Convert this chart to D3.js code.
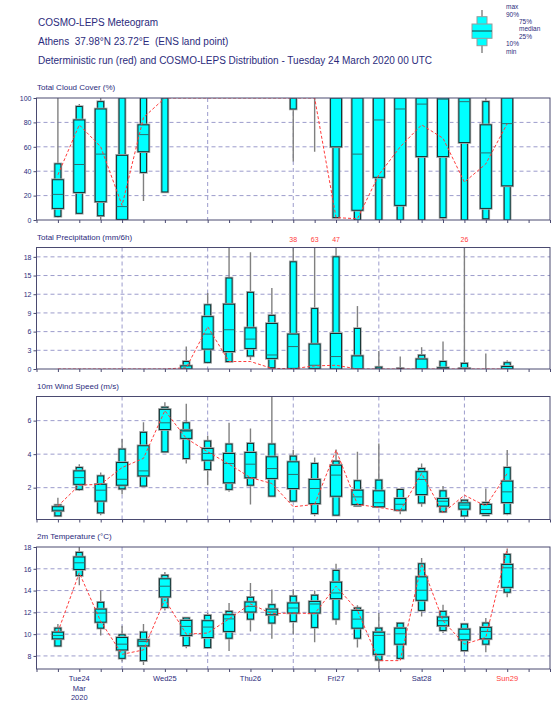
<!DOCTYPE html>
<html>
<head>
<meta charset="utf-8">
<script src="https://cdn.jsdelivr.net/npm/d3@7"></script>
<style>
  body { margin: 0; background: #fff; }
  svg { display: block; font-family: "Liberation Sans", Arial, sans-serif; }
</style>
</head>
<body>
<div id="chart"></div>
<script>
// forecast steps (hours from Tue 24 Mar 2020 00 UTC)
const stepHours = [6, 12, 18, 24, 30, 36, 42, 48, 54, 60, 66, 72, 78, 84, 90, 96, 102, 108, 114, 120, 126, 132];
const dayHours = [12, 36, 60, 84, 108, 132];
const dayLabels = ["Tue24", "Wed25", "Thu26", "Fri27", "Sat28", "Sun29"];
const dayBounds = [24, 48, 72, 96, 120];

// each row: [min, 10%, 25%, median, 75%, 90%, max]
const cloudStats = [
  [2, 3, 9.5, 21, 33, 46, 100], [5, 5.5, 22.6, 45.5, 82, 93, 95], [0, 3.5, 15, 54, 91, 97, 100],
  [0, 0, 0.5, 11, 53, 100, 100], [15.5, 39, 56, 70, 78, 100, 100], [23, 23, 100, 100, 100, 100, 100],
  [100, 100, 100, 100, 100, 100, 100], [100, 100, 100, 100, 100, 100, 100], [100, 100, 100, 100, 100, 100, 100],
  [100, 100, 100, 100, 100, 100, 100], [100, 100, 100, 100, 100, 100, 100], [48, 91, 100, 100, 100, 100, 100],
  [56, 100, 100, 100, 100, 100, 100], [2, 2, 60, 100, 100, 100, 100], [0, 0, 8, 54, 100, 100, 100],
  [0, 0, 35, 82, 100, 100, 100], [0, 0, 12, 91, 100, 100, 100], [0, 0, 52, 95, 100, 100, 100],
  [0, 2, 52, 99, 100, 100, 100], [0, 0, 63.5, 97, 100, 100, 100], [0, 1, 9.5, 55, 78, 97, 100],
  [0, 0, 28, 79, 100, 100, 100]
];
const cloudDet = [37, 78, 60, 12, 84, 100, 100, 100, 100, 100, 100, 100, 100, 2, 1, 37, 60, 78, 67, 31, 46, 79];

const precipStats = [
  [0, 0, 0, 0, 0, 0, 0], [0, 0, 0, 0, 0, 0, 0], [0, 0, 0, 0, 0, 0, 0],
  [0, 0, 0, 0, 0, 0, 0], [0, 0, 0, 0, 0, 0, 0], [0, 0, 0, 0, 0, 0, 0],
  [0, 0, 0, 0, 0.5, 1.2, 3.6], [1.07, 1.07, 3.2, 5.6, 8.4, 10.3, 12.2], [1.2, 1.2, 2.8, 6.3, 10.4, 14.6, 19.5],
  [1.45, 2.1, 3.3, 4.8, 6.6, 12.3, 18.75], [0.1, 0.2, 1.7, 2.25, 7.3, 8.6, 13.0], [0, 0, 0.1, 3.6, 5.6, 17.2, 38],
  [0, 0, 0.1, 0.6, 4.0, 9.7, 63], [0, 0, 0, 2.0, 5.7, 18.0, 47], [0, 0, 0, 0, 2.1, 6.5, 10.1],
  [0, 0, 0, 0, 0, 0.3, 2.9], [0, 0, 0, 0, 0, 0.1, 2.0], [0, 0, 0, 0, 1.6, 2.2, 3.5],
  [0, 0, 0, 0, 0.2, 1.2, 4.4], [0, 0, 0, 0, 0.1, 0.9, 26], [0, 0, 0, 0, 0, 0, 2.5],
  [0, 0, 0, 0, 0.4, 1.0, 1.4]
];
const precipDet = [0, 0, 0, 0, 0, 0, 0.2, 6.8, 1.2, 1.2, 0.1, 0.05, 0.5, 0.6, 0, 0, 0, 0, 0, 0, 0, 0];

const windStats = [
  [0.26, 0.32, 0.62, 0.66, 0.86, 0.96, 1.4], [1.8, 1.9, 2.2, 2.6, 3.0, 3.2, 3.4], [0.35, 0.5, 1.2, 1.85, 2.2, 2.7, 2.9],
  [1.6, 1.93, 2.15, 2.5, 3.5, 4.3, 4.9], [2.05, 2.1, 2.7, 3.0, 4.5, 5.3, 5.9], [4.1, 4.14, 5.47, 5.87, 6.67, 6.8, 7.1],
  [3.44, 3.74, 4.94, 5.37, 5.43, 5.87, 7.0], [2.15, 3.08, 3.64, 4.04, 4.34, 4.78, 5.1], [1.75, 1.9, 2.29, 3.44, 4.04, 4.6, 5.87],
  [1.0, 2.15, 2.59, 3.4, 4.1, 4.64, 5.53], [1.45, 1.5, 2.55, 3.14, 3.84, 4.6, 7.45], [1.2, 1.2, 1.95, 2.79, 3.54, 3.88, 4.24],
  [0.3, 0.46, 1.05, 1.95, 2.49, 3.44, 3.8], [0.36, 0.36, 1.49, 2.75, 3.34, 3.58, 4.28], [0.86, 0.92, 1.0, 1.45, 1.85, 2.41, 4.14],
  [0.8, 0.86, 0.86, 1.1, 1.81, 2.45, 4.64], [0.42, 0.66, 0.66, 1.01, 1.35, 1.89, 1.89], [0.86, 1.09, 1.59, 2.49, 2.95, 3.14, 3.44],
  [0.5, 0.56, 0.9, 1.19, 1.35, 1.81, 2.1], [0.26, 0.32, 0.72, 0.96, 1.09, 1.25, 1.25], [0.32, 0.36, 0.46, 0.7, 1.0, 1.11, 1.95],
  [0.36, 0.46, 1.11, 1.75, 2.39, 3.2, 4.24]
];
const windDet = [0.9, 2.15, 2.2, 3.2, 3.75, 6.6, 4.94, 4.14, 3.4, 2.6, 2.25, 0.86, 1.0, 4.24, 1.0, 0.82, 0.62, 2.85, 0.5, 1.55, 0.9, 2.85];

const tempStats = [
  [8.92, 8.92, 9.57, 9.88, 10.18, 10.55, 10.92], [14.5, 15.38, 15.94, 16.55, 17.08, 17.5, 18.1], [9.88, 10.55, 11.1, 11.94, 12.3, 12.92, 14.0],
  [7.48, 7.78, 8.55, 9.08, 9.69, 9.94, 10.77], [7.17, 7.57, 8.92, 9.32, 9.48, 10.18, 10.92], [12.18, 12.46, 13.42, 14.4, 15.08, 15.4, 15.7],
  [8.71, 8.95, 9.88, 10.71, 11.26, 11.48, 11.57], [8.77, 8.77, 9.69, 10.65, 11.23, 11.72, 11.94], [8.46, 9.63, 10.25, 11.4, 11.78, 12.09, 12.86],
  [10.25, 11.38, 12.03, 12.55, 12.95, 13.38, 14.7], [9.57, 11.02, 11.78, 12.03, 12.3, 12.7, 14.09], [10.0, 11.17, 11.94, 12.4, 12.86, 13.48, 14.09],
  [9.26, 10.62, 11.94, 12.77, 13.0, 13.57, 14.0], [10.86, 11.38, 13.26, 13.78, 14.77, 15.85, 16.46], [8.77, 9.63, 10.55, 11.38, 12.18, 12.4, 12.65],
  [6.8, 7.63, 8.15, 9.88, 10.18, 10.55, 11.94], [7.78, 7.78, 9.08, 10.03, 10.55, 11.0, 11.1], [11.63, 12.18, 13.11, 14.03, 15.26, 16.46, 17.0],
  [10.1, 10.34, 10.77, 11.23, 11.57, 12.09, 12.7], [8.34, 8.49, 9.48, 10.0, 10.46, 10.92, 10.92], [8.34, 9.08, 9.57, 10.25, 10.62, 11.02, 11.48],
  [13.38, 13.85, 14.3, 16.09, 16.4, 17.32, 17.85]
];
const tempDet = [10.2, 15.63, 11.17, 8.15, 8.55, 13.17, 10.0, 10.1, 11.4, 12.77, 11.88, 11.94, 11.88, 14.4, 12.18, 7.57, 7.57, 16.46, 11.23, 9.08, 9.69, 17.85];

const cloudTicks = [0, 20, 40, 60, 80, 100];
const precipTicks = [0, 3, 6, 9, 12, 15, 18];
const windTicks = [2, 4, 6];
const tempTicks = [8, 10, 12, 14, 16, 18];

const width = 553, height = 701;
const navy = "#2b2b7c", frameColor = "#4a4a70", gridColor = "#9c9ccc";

const svg = d3.select("#chart").append("svg")
  .attr("width", width)
  .attr("height", height);

const x = d3.scaleLinear().domain([0, 144]).range([36.5, 550]);

// header
const header = [
  { text: "COSMO-LEPS Meteogram", y: 26 },
  { text: "Athens  37.98°N 23.72°E  (ENS land point)", y: 45 },
  { text: "Deterministic run (red) and COSMO-LEPS Distribution - Tuesday 24 March 2020 00 UTC", y: 64 }
];
svg.selectAll(".hdr").data(header).enter().append("text")
  .attr("class", "hdr")
  .attr("x", 38)
  .attr("y", d => d.y)
  .attr("font-size", "10px")
  .attr("fill", navy)
  .style("white-space", "pre")
  .text(d => d.text);

const panels = [
  { title: "Total Cloud Cover (%)", stats: cloudStats, det: cloudDet, ticks: cloudTicks, domain: [0, 100], top: 98, bottom: 220 },
  { title: "Total Precipitation (mm/6h)", stats: precipStats, det: precipDet, ticks: precipTicks, domain: [0, 19.5], top: 247.5, bottom: 369, overflow: true },
  { title: "10m Wind Speed (m/s)", stats: windStats, det: windDet, ticks: windTicks, domain: [0.1, 7.44], top: 396.5, bottom: 519.5 },
  { title: "2m Temperature (°C)", stats: tempStats, det: tempDet, ticks: tempTicks, domain: [6.8, 18], top: 547, bottom: 669 }
];

panels.forEach((p, pi) => {
  const y = d3.scaleLinear().domain(p.domain).range([p.bottom, p.top]);
  const g = svg.append("g");
  const x0 = x.range()[0], x1 = x.range()[1];

  const clipId = "clip" + pi;
  svg.append("clipPath").attr("id", clipId)
    .append("rect")
    .attr("x", x0).attr("y", p.top)
    .attr("width", x1 - x0).attr("height", p.bottom - p.top);

  // panel title
  g.append("text")
    .attr("x", 37)
    .attr("y", p.top - 8)
    .attr("font-size", "8px")
    .attr("fill", navy)
    .text(p.title);

  // grid lines
  g.append("g").selectAll("line")
    .data(p.ticks.filter(t => y(t) > p.top + 1 && y(t) < p.bottom - 1))
    .enter().append("line")
    .attr("x1", x0).attr("x2", x1)
    .attr("y1", d => y(d)).attr("y2", d => y(d))
    .attr("stroke", gridColor)
    .attr("stroke-dasharray", "4,3");

  g.append("g").selectAll("line")
    .data(dayBounds)
    .enter().append("line")
    .attr("x1", d => x(d)).attr("x2", d => x(d))
    .attr("y1", p.top).attr("y2", p.bottom)
    .attr("stroke", gridColor)
    .attr("stroke-dasharray", "4,3");

  // y axis
  const yAxis = g.append("g")
    .attr("transform", `translate(${x0},0)`)
    .call(d3.axisLeft(y).tickValues(p.ticks).tickSize(3).tickPadding(2));
  yAxis.select(".domain").remove();
  yAxis.selectAll("line").attr("stroke", frameColor);
  yAxis.selectAll("text").attr("fill", navy).attr("font-size", "7px")
    .attr("font-family", "Liberation Sans, Arial, sans-serif");

  // x ticks every 6 hours
  const xAxis = g.append("g")
    .attr("transform", `translate(0,${p.bottom})`)
    .call(d3.axisBottom(x).tickValues(d3.range(0, 145, 6)).tickSize(3).tickFormat(""));
  xAxis.select(".domain").remove();
  xAxis.selectAll("line").attr("stroke", frameColor);

  const plot = g.append("g").attr("clip-path", `url(#${clipId})`);

  // whiskers
  plot.selectAll(".whisker")
    .data(p.stats)
    .enter().append("line")
    .attr("class", "whisker")
    .attr("x1", (d, i) => x(stepHours[i])).attr("x2", (d, i) => x(stepHours[i]))
    .attr("y1", d => y(d[0])).attr("y2", d => y(d[6]))
    .attr("stroke", "#808080")
    .attr("stroke-width", 1.4);

  // boxes: 10-90 narrow, 25-75 wide
  const boxes = [{ lo: 1, hi: 5, w: 6 }, { lo: 2, hi: 4, w: 11 }];
  boxes.forEach(b => {
    const rows = p.stats.map((d, i) => ({ cx: x(stepHours[i]), lo: d[b.lo], hi: d[b.hi] }))
      .filter(d => d.hi > d.lo);
    plot.append("g").selectAll("rect")
      .data(rows)
      .enter().append("rect")
      .attr("x", d => d.cx - b.w / 2)
      .attr("y", d => y(d.hi))
      .attr("width", b.w)
      .attr("height", d => y(d.lo) - y(d.hi))
      .attr("fill", "none")
      .attr("stroke", "#a8a8a8")
      .attr("stroke-width", 2.6);
    plot.append("g").selectAll("rect")
      .data(rows)
      .enter().append("rect")
      .attr("x", d => d.cx - b.w / 2)
      .attr("y", d => y(d.hi))
      .attr("width", b.w)
      .attr("height", d => y(d.lo) - y(d.hi))
      .attr("fill", "#00ffff")
      .attr("stroke", "#163030")
      .attr("stroke-width", 1);
  });

  // medians
  plot.selectAll(".median")
    .data(p.stats.filter(d => d[4] > d[2]).map(d => d))
    .enter().append("line")
    .attr("class", "median")
    .attr("x1", d => x(stepHours[p.stats.indexOf(d)]) - 5.5)
    .attr("x2", d => x(stepHours[p.stats.indexOf(d)]) + 5.5)
    .attr("y1", d => y(d[3])).attr("y2", d => y(d[3]))
    .attr("stroke", "#2c7070")
    .attr("stroke-width", 1);

  // deterministic run
  const line = d3.line()
    .x((d, i) => x(stepHours[i]))
    .y(d => y(d));
  plot.append("path")
    .datum(p.det)
    .attr("d", line)
    .attr("fill", "none")
    .attr("stroke", "#ff3b3b")
    .attr("stroke-width", 1)
    .attr("stroke-dasharray", "3,2");

  // frame
  g.append("rect")
    .attr("x", x0).attr("y", p.top)
    .attr("width", x1 - x0).attr("height", p.bottom - p.top)
    .attr("fill", "none")
    .attr("stroke", frameColor)
    .attr("stroke-width", 1);

  // values off the scale
  if (p.overflow) {
    g.selectAll(".over")
      .data(p.stats.map((d, i) => ({ v: d[6], h: stepHours[i] })).filter(d => d.v > p.domain[1]))
      .enter().append("text")
      .attr("x", d => x(d.h))
      .attr("y", p.top - 6)
      .attr("text-anchor", "middle")
      .attr("font-size", "7px")
      .attr("fill", "#ff3b3b")
      .text(d => Math.round(d.v));
  }
});

// day labels under the last panel
const dl = svg.append("g");
dl.selectAll("text")
  .data(dayLabels)
  .enter().append("text")
  .attr("x", (d, i) => x(dayHours[i]))
  .attr("y", 681)
  .attr("text-anchor", "middle")
  .attr("font-size", "7.5px")
  .attr("fill", (d, i) => i === dayLabels.length - 1 ? "#ff3b3b" : navy)
  .text(d => d);
dl.append("text").attr("x", x(dayHours[0])).attr("y", 691).attr("text-anchor", "middle")
  .attr("font-size", "7.5px").attr("fill", navy).text("Mar");
dl.append("text").attr("x", x(dayHours[0])).attr("y", 700).attr("text-anchor", "middle")
  .attr("font-size", "7.5px").attr("fill", navy).text("2020");

// legend (top right)
const lg = svg.append("g");
const lx = 482;
lg.append("line").attr("x1", lx).attr("x2", lx).attr("y1", 10).attr("y2", 53)
  .attr("stroke", "#808080").attr("stroke-width", 1.4);
lg.append("rect").attr("x", lx - 5).attr("y", 16.7).attr("width", 10).attr("height", 29)
  .attr("fill", "#00ffff").attr("stroke", "#9a9a9a").attr("stroke-width", 1);
lg.append("rect").attr("x", lx - 10).attr("y", 24).attr("width", 20).attr("height", 14.3)
  .attr("fill", "#00ffff").attr("stroke", "#9a9a9a").attr("stroke-width", 1);
lg.append("line").attr("x1", lx - 10).attr("x2", lx + 10).attr("y1", 31).attr("y2", 31)
  .attr("stroke", "#1a4040").attr("stroke-width", 1);
const legendLabels = [
  { t: "max", x: 506, y: 8.5 }, { t: "90%", x: 506, y: 16.5 },
  { t: "75%", x: 519, y: 23.5 }, { t: "median", x: 519, y: 31 }, { t: "25%", x: 519, y: 39 },
  { t: "10%", x: 506, y: 46 }, { t: "min", x: 506, y: 53.5 }
];
lg.selectAll("text").data(legendLabels).enter().append("text")
  .attr("x", d => d.x).attr("y", d => d.y)
  .attr("font-size", "6.5px")
  .attr("fill", navy)
  .text(d => d.t);
</script>
</body>
</html>
